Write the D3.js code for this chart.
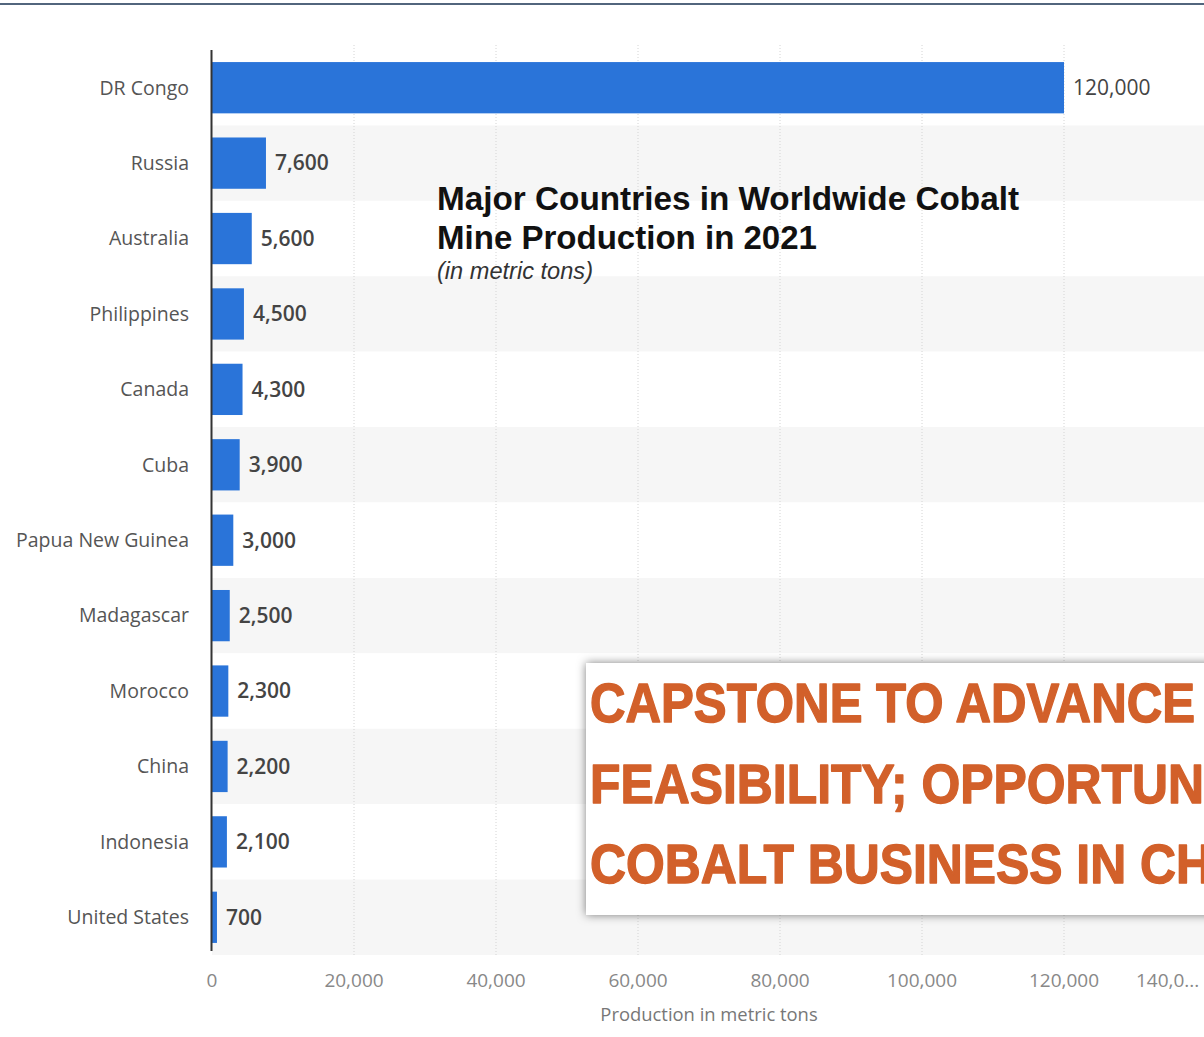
<!DOCTYPE html>
<html>
<head>
<meta charset="utf-8">
<script src="https://cdn.jsdelivr.net/npm/d3@7"></script>
<style>
  body { margin: 0; background: #fff; }
  svg { display: block; }
</style>
</head>
<body>
<div id="chart"></div>
<script>
// values (metric tons, 2021)
var countries = ["DR Congo", "Russia", "Australia", "Philippines", "Canada", "Cuba",
  "Papua New Guinea", "Madagascar", "Morocco", "China", "Indonesia", "United States"];
var production = [120000, 7600, 5600, 4500, 4300, 3900, 3000, 2500, 2300, 2200, 2100, 700];
var xTicks = [0, 20000, 40000, 60000, 80000, 100000, 120000, 140000];
var titleLines = ["Major Countries in Worldwide Cobalt", "Mine Production in 2021"];
var subtitle = "(in metric tons)";
var bannerLines = ["CAPSTONE TO ADVANCE", "FEASIBILITY; OPPORTUN", "COBALT BUSINESS IN CH"];

var W = 1204, H = 1037;
var margin = { top: 50, left: 212 };
var plotBottom = 955;

var data = countries.map(function (c, i) { return { country: c, value: production[i] }; });

var svg = d3.select("#chart").append("svg").attr("width", W).attr("height", H);

var defs = svg.append("defs");
var sh = defs.append("filter").attr("id", "shadow").attr("x", "-10%").attr("y", "-20%").attr("width", "130%").attr("height", "140%");
sh.append("feDropShadow").attr("dx", 0).attr("dy", 0).attr("stdDeviation", 5).attr("flood-color", "#000").attr("flood-opacity", 0.5);

// top border strip
svg.append("rect").attr("x", 0).attr("y", 3).attr("width", W).attr("height", 2).attr("fill", "#52657d");

var x = d3.scaleLinear().domain([0, 120000]).range([margin.left, 1064]);
var y = d3.scaleBand().domain(countries).range([margin.top, plotBottom]).paddingInner(0.32).paddingOuter(0.16);
var rows = d3.scaleBand().domain(countries).range([margin.top, plotBottom]);

// alternating row stripes
svg.append("g").selectAll("rect")
  .data(data)
  .enter().append("rect")
    .attr("x", margin.left)
    .attr("y", function (d) { return rows(d.country); })
    .attr("width", W - margin.left)
    .attr("height", rows.bandwidth())
    .attr("fill", function (d, i) { return i % 2 ? "#f6f6f6" : "#ffffff"; });

// dotted gridlines
svg.append("g").selectAll("line")
  .data(xTicks.slice(1))
  .enter().append("line")
    .attr("x1", function (d) { return x(d); })
    .attr("x2", function (d) { return x(d); })
    .attr("y1", margin.top - 5)
    .attr("y2", plotBottom)
    .attr("stroke", "#d4d4d4")
    .attr("stroke-dasharray", "1,2");

// bars
svg.append("g").selectAll("rect")
  .data(data)
  .enter().append("rect")
    .attr("x", x(0))
    .attr("y", function (d) { return y(d.country); })
    .attr("width", function (d) { return x(d.value) - x(0); })
    .attr("height", y.bandwidth())
    .attr("fill", "#2a74d9");

// y axis line
svg.append("line")
  .attr("x1", x(0) - 0.5).attr("x2", x(0) - 0.5)
  .attr("y1", margin.top).attr("y2", plotBottom - 4)
  .attr("stroke", "#333").attr("stroke-width", 2);

// country labels
svg.append("g").selectAll("text")
  .data(data)
  .enter().append("text")
    .attr("x", 189)
    .attr("y", function (d) { return rows(d.country) + rows.bandwidth() / 2; })
    .attr("dy", "0.35em")
    .attr("text-anchor", "end")
    .attr("font-family", "'Open Sans', sans-serif")
    .attr("font-size", 19.5)
    .attr("fill", "#555")
    .text(function (d) { return d.country; });

// value labels
var fmt = d3.format(",");
svg.append("g").selectAll("text")
  .data(data)
  .enter().append("text")
    .attr("x", function (d) { return x(d.value) + 9; })
    .attr("y", function (d) { return rows(d.country) + rows.bandwidth() / 2; })
    .attr("dy", "0.35em")
    .attr("font-family", "'Open Sans', sans-serif")
    .attr("font-size", 21)
    .attr("font-weight", function (d, i) { return i === 0 ? 400 : 600; })
    .attr("fill", "#444")
    .text(function (d) { return fmt(d.value); });

// x tick labels
svg.append("g").selectAll("text")
  .data(xTicks)
  .enter().append("text")
    .attr("x", function (d) { return d === 140000 ? x(d) - 70 : x(d); })
    .attr("y", 987)
    .attr("text-anchor", function (d) { return d === 140000 ? "start" : "middle"; })
    .attr("font-family", "'Open Sans', sans-serif")
    .attr("font-size", 19)
    .attr("fill", "#888")
    .text(function (d) { return d === 140000 ? "140,0..." : fmt(d); });

svg.append("text")
  .attr("x", 709)
  .attr("y", 1021)
  .attr("text-anchor", "middle")
  .attr("font-family", "'Open Sans', sans-serif")
  .attr("font-size", 18.4)
  .attr("fill", "#777")
  .text("Production in metric tons");

// title
var title = svg.append("g").attr("font-family", "'Liberation Sans', Arial, sans-serif");
var titleWidths = [582, 380];
titleLines.forEach(function (t, i) {
  title.append("text")
    .attr("x", 437).attr("y", 210 + i * 39)
    .attr("font-size", 33).attr("font-weight", "bold").attr("fill", "#111")
    .attr("textLength", titleWidths[i]).attr("lengthAdjust", "spacingAndGlyphs")
    .text(t);
});
title.append("text")
  .attr("x", 437).attr("y", 279)
  .attr("font-size", 23.5).attr("font-style", "italic").attr("fill", "#333")
  .attr("textLength", 156).attr("lengthAdjust", "spacingAndGlyphs")
  .text(subtitle);

// overlay banner
svg.append("rect")
  .attr("x", 586).attr("y", 663).attr("width", 640).attr("height", 252)
  .attr("fill", "#fff").attr("filter", "url(#shadow)");
var banner = [605, 614, 622];
bannerLines.forEach(function (t, i) {
  svg.append("text")
    .attr("x", 590).attr("y", 722 + i * 80.5)
    .attr("font-family", "'Liberation Sans Narrow', 'Liberation Sans', Arial, sans-serif")
    .attr("font-size", 55).attr("font-weight", "bold").attr("fill", "#d2602a")
    .attr("stroke", "#d2602a").attr("stroke-width", 1.4).attr("stroke-linejoin", "round")
    .attr("textLength", banner[i]).attr("lengthAdjust", "spacingAndGlyphs")
    .text(t);
});
</script>
</body>
</html>
